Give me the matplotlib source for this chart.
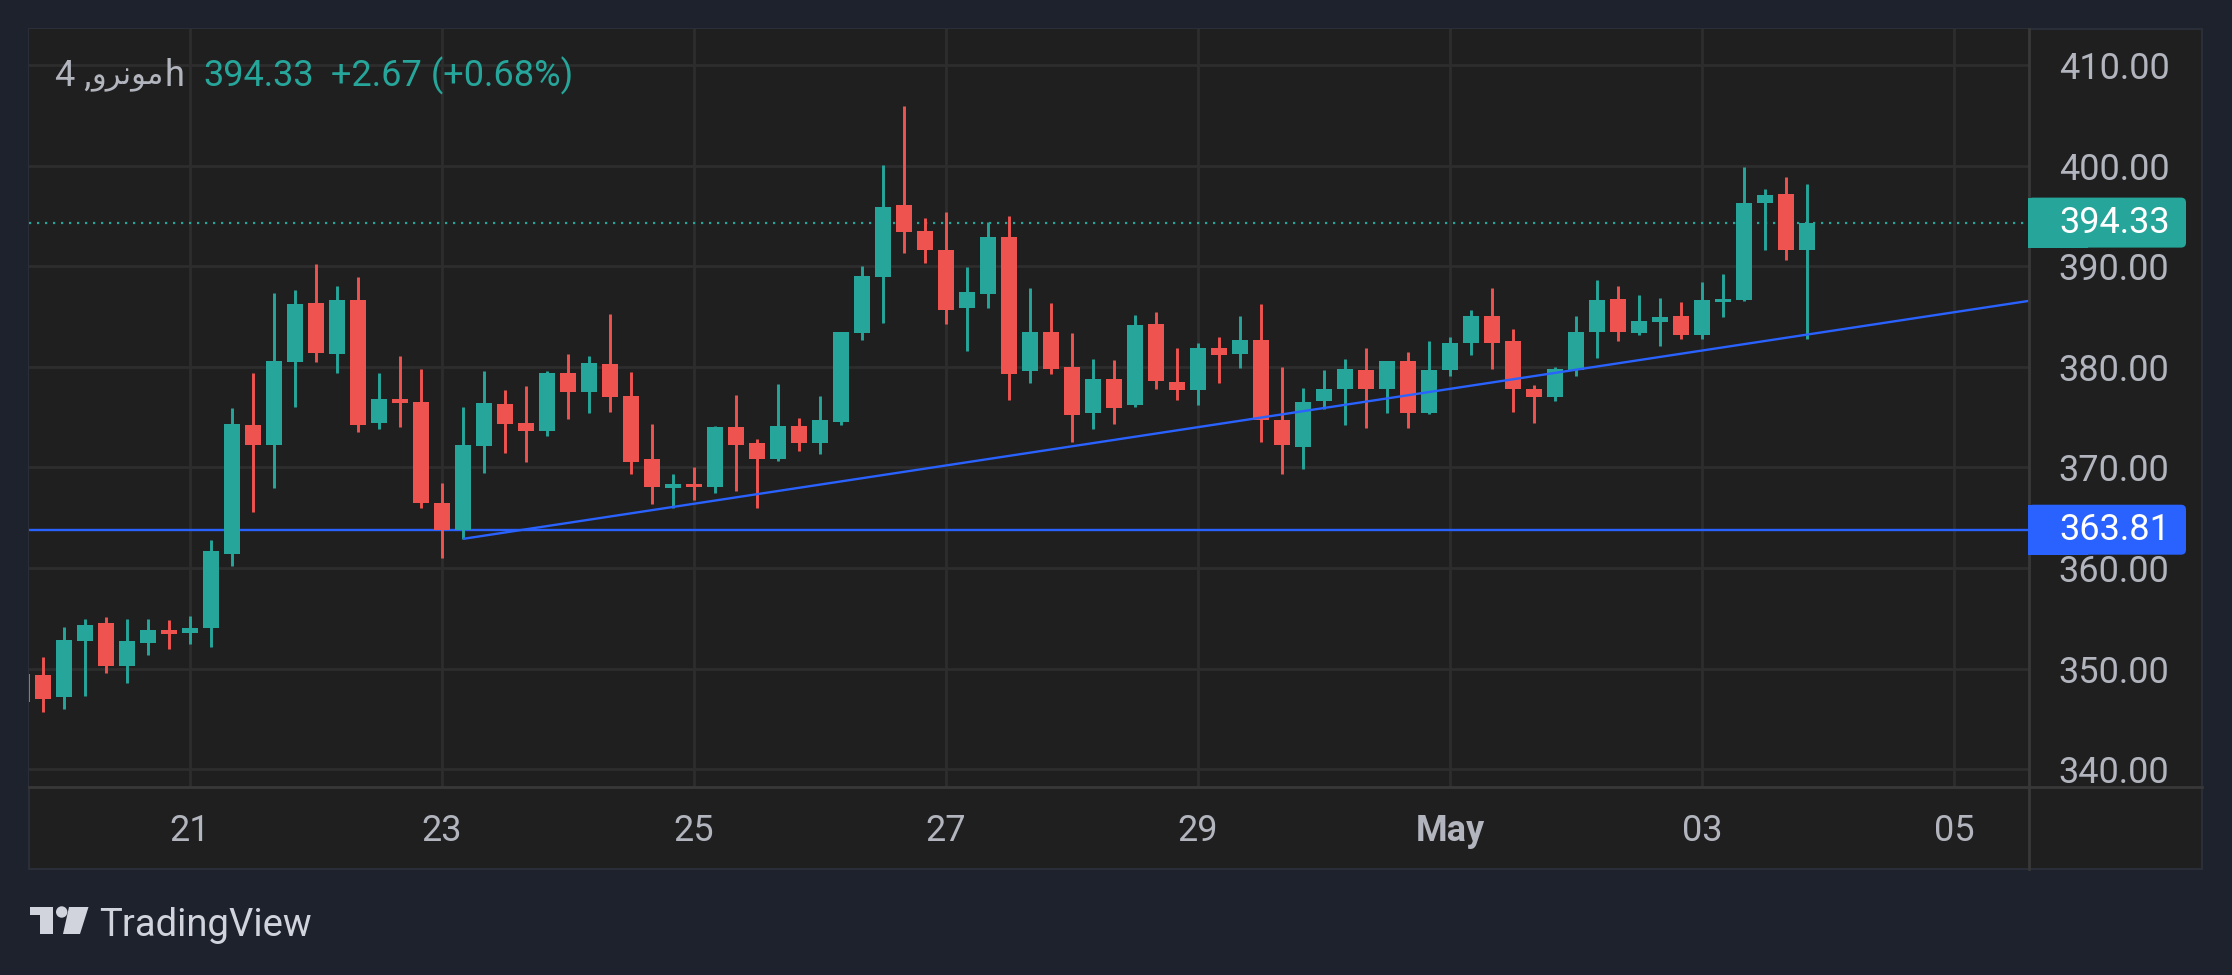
import numpy as np
import pandas as pd
import matplotlib
matplotlib.use('Agg')
import matplotlib.pyplot as plt
import matplotlib.dates as mdates
import matplotlib.transforms as mtransforms
from matplotlib.patches import Rectangle, Polygon, Circle, FancyBboxPatch
from matplotlib.lines import Line2D

# 4h candles, first one starts at this time
first_bar = '2024-04-19 16:00'

opens = [346.7, 349.4, 347.2, 352.7, 354.5, 350.3, 352.6, 353.8, 353.5, 354.0,
         361.4, 374.2, 372.2, 380.5, 386.3, 381.3, 386.6, 374.4, 376.8, 376.5,
         366.5, 363.8, 372.1, 376.3, 374.4, 373.6, 379.4, 377.5, 380.3, 377.1,
         370.8, 368.0, 368.4, 368.1, 374.0, 372.4, 370.8, 374.1, 372.4, 374.5,
         383.4, 388.9, 396.1, 393.5, 391.6, 385.8, 387.2, 392.9, 379.6, 383.5,
         380.0, 375.4, 378.8, 376.2, 384.3, 378.5, 377.7, 381.9, 381.3, 382.7,
         374.7, 372.0, 376.6, 377.8, 379.7, 377.8, 380.6, 375.4, 379.7, 382.4,
         385.0, 382.6, 377.8, 377.0, 379.7, 383.5, 386.7, 383.4, 384.5, 385.0,
         383.2, 386.4, 386.6, 396.3, 397.2, 391.6]
highs = [350.0, 351.2, 354.1, 354.9, 355.1, 354.9, 354.9, 354.8, 355.2, 362.8,
         375.9, 379.4, 387.3, 387.6, 390.2, 388.0, 388.9, 379.4, 381.1, 379.8,
         368.5, 376.0, 379.6, 377.7, 378.1, 379.6, 381.3, 381.1, 385.2, 379.5,
         374.3, 369.3, 370.0, 374.1, 377.2, 372.8, 378.3, 374.9, 377.1, 383.5,
         390.0, 400.1, 405.9, 394.8, 395.4, 389.9, 394.4, 395.0, 387.8, 386.3,
         383.4, 380.8, 380.7, 385.1, 385.4, 381.9, 382.4, 383.0, 385.0, 386.2,
         380.0, 377.9, 379.7, 380.8, 381.9, 380.6, 381.5, 382.6, 383.0, 385.6,
         387.8, 383.8, 378.2, 380.0, 385.0, 388.6, 388.0, 387.1, 386.8, 386.4,
         388.4, 389.2, 399.9, 397.7, 398.9, 398.2]
lows = [346.0, 345.7, 346.0, 347.3, 349.6, 348.6, 351.4, 352.0, 352.5, 352.2,
        360.2, 365.6, 368.0, 376.0, 380.5, 379.4, 373.5, 373.8, 374.0, 366.0,
        361.0, 362.9, 369.4, 371.4, 370.5, 373.1, 374.8, 375.4, 375.5, 369.3,
        366.4, 366.0, 366.8, 367.5, 367.7, 366.0, 370.6, 371.6, 371.3, 374.2,
        382.7, 384.4, 391.3, 390.3, 384.3, 381.6, 385.8, 376.7, 378.4, 379.3,
        372.5, 373.8, 374.3, 376.0, 377.8, 376.7, 376.2, 378.4, 379.9, 372.5,
        369.3, 369.8, 375.8, 374.2, 373.9, 375.4, 373.9, 375.3, 379.1, 381.2,
        379.8, 375.5, 374.4, 376.6, 379.1, 380.9, 382.6, 383.2, 382.1, 382.8,
        382.8, 384.9, 386.5, 391.6, 390.6, 382.8]
closes = [349.5, 347.0, 352.8, 354.3, 350.3, 352.7, 353.8, 353.4, 354.0, 361.7,
          374.3, 372.2, 380.6, 386.2, 381.4, 386.6, 374.2, 376.8, 376.4, 366.5,
          363.8, 372.2, 376.4, 374.3, 373.6, 379.4, 377.5, 380.4, 377.0, 370.5,
          368.1, 368.4, 368.1, 374.0, 372.2, 370.8, 374.1, 372.4, 374.7, 383.5,
          389.0, 395.9, 393.4, 391.6, 385.6, 387.4, 392.9, 379.3, 383.5, 379.8,
          375.2, 378.8, 375.9, 384.2, 378.6, 377.7, 381.9, 381.2, 382.7, 374.7,
          372.2, 376.5, 377.8, 379.8, 377.8, 380.6, 375.4, 379.7, 382.4, 385.0,
          382.4, 377.8, 377.0, 379.8, 383.5, 386.6, 383.5, 384.6, 384.9, 383.2,
          386.6, 386.7, 396.3, 397.1, 391.6, 394.33]

last_price = 394.33
change_text = '+2.67 (+0.68%)'
support_level = 363.81
trend_points = [('2024-04-23 04:00', 362.9), ('2024-05-03 20:00', 383.2)]

tick_dates = ['2024-04-21', '2024-04-23', '2024-04-25', '2024-04-27',
              '2024-04-29', '2024-05-01', '2024-05-03', '2024-05-05']
tick_labels = ['21', '23', '25', '27', '29', 'May', '03', '05']
price_ticks = [340, 350, 360, 370, 380, 390, 400, 410]

# symbol name (Arabic, shaped glyphs in visual order) and interval, as shown
symbol_parts = ['4 ,', '\uFEED\uFEAE\uFEE7\uFEEE\uFEE3', 'h']

GREEN = '#26a69a'
RED = '#ef5350'
BLUE = '#2962ff'
OUTER = '#1e222d'
PANEL = '#1f1f1f'
GRID = '#2d2d2d'
SEP = '#383838'
LABEL = '#b2b5be'

plt.rcParams['font.family'] = ['Roboto', 'DejaVu Sans']

W, H = 2232, 975
fig = plt.figure(figsize=(W / 100, H / 100), dpi=100, facecolor=OUTER)
# pixel coords, origin top-left
pix = mtransforms.Affine2D().scale(1.0 / W, -1.0 / H).translate(0, 1) + fig.transFigure

fig.add_artist(Rectangle((29, 29), 2173, 840, transform=pix, facecolor=PANEL,
                         edgecolor='#2a2e39', linewidth=1.5, zorder=-2))

ax = fig.add_axes([29 / W, 1 - 787 / H, 2000 / W, 758 / H])
ax.set_facecolor(PANEL)
for s in ax.spines.values():
    s.set_visible(False)

times = mdates.date2num(pd.date_range(first_bar, periods=len(opens), freq='4h').to_pydatetime())
o = np.array(opens)
c = np.array(closes)
up = c >= o
colors = np.where(up, GREEN, RED)

ax.vlines(times, lows, highs, colors=colors, linewidth=2.1, zorder=3)
body_bottom = np.minimum(o, c)
body_h = np.maximum(np.abs(c - o), 0.2)
ax.bar(times, body_h, bottom=body_bottom, width=3.2 / 24, color=colors,
       linewidth=0, zorder=4)

ax.axhline(support_level, color=BLUE, linewidth=1.7, zorder=2)
ax.axhline(last_price, color=GREEN, linewidth=1.6, linestyle=(0, (1, 2.6)), zorder=2)

# x range
x0 = mdates.date2num(pd.Timestamp(tick_dates[0]))
xmin, xmax = x0 - 161 / 126, x0 + 1839 / 126
ax.set_xlim(xmin, xmax)
ax.set_ylim(338.24, 413.57)

# trend ray
tx = [mdates.date2num(pd.Timestamp(p[0])) for p in trend_points]
ty = [p[1] for p in trend_points]
slope = (ty[1] - ty[0]) / (tx[1] - tx[0])
ax.plot([tx[0], xmax], [ty[0], ty[0] + slope * (xmax - tx[0])], color=BLUE,
        linewidth=1.7, zorder=5, solid_capstyle='butt')

ax.set_xticks([mdates.date2num(pd.Timestamp(d)) for d in tick_dates])
ax.set_xticklabels(tick_labels)
ax.set_yticks(price_ticks)
ax.set_yticklabels([f'{v:.2f}' for v in price_ticks])
ax.yaxis.tick_right()
ax.tick_params(axis='y', length=0, pad=21.5, labelsize=26, labelcolor=LABEL)
ax.tick_params(axis='x', length=0, pad=19, labelsize=26, labelcolor=LABEL)
ax.get_xticklabels()[5].set_fontweight('bold')
ax.grid(True, color=GRID, linewidth=2)
ax.set_axisbelow(True)

# separators of price / time scales
fig.add_artist(Line2D([2029, 2029], [29, 869], transform=pix, color=SEP, linewidth=2))
fig.add_artist(Line2D([29, 2202], [787, 787], transform=pix, color=SEP, linewidth=2))

# price labels on the scale
fig.canvas.draw()
for price, col in [(last_price, GREEN), (support_level, BLUE)]:
    yp = H - ax.transData.transform((xmin, price))[1]
    fig.add_artist(FancyBboxPatch((2028, yp - 25), 158, 50, transform=pix,
                                  boxstyle='round,pad=0,rounding_size=5',
                                  facecolor=col, edgecolor='none', zorder=6))
    fig.add_artist(Rectangle((2028, yp - 25), 60, 50, transform=pix,
                             facecolor=col, edgecolor='none', zorder=6))
    fig.text(2059, yp, f'{price:.2f}', transform=pix, color='white', fontsize=26,
             va='center', ha='left', zorder=7)

# legend line
fig.text(55, 76, symbol_parts[0], transform=pix, color=LABEL, fontsize=26, va='center')
fig.text(164, 78, symbol_parts[1], transform=pix, color=LABEL, fontsize=22,
         va='center', ha='right')
fig.text(184, 76, symbol_parts[2], transform=pix, color=LABEL, fontsize=26,
         va='center', ha='right')
fig.text(203, 76, f'{last_price:.2f}', transform=pix, color=GREEN, fontsize=26, va='center')
fig.text(331, 76, change_text, transform=pix, color=GREEN, fontsize=26, va='center')

# TradingView logo
LOGO = '#d1d4dc'
fig.add_artist(Polygon([(30, 907), (53, 907), (53, 934), (40, 934), (40, 915), (30, 915)],
                       closed=True, transform=pix, facecolor=LOGO, edgecolor='none'))
fig.add_artist(Circle((61.7, 912), 5.7, transform=pix, facecolor=LOGO, edgecolor='none'))
fig.add_artist(Polygon([(69, 907), (88.5, 907), (80, 934), (63, 934)],
                       closed=True, transform=pix, facecolor=LOGO, edgecolor='none'))
fig.text(99, 936, 'TradingView', transform=pix, color=LOGO, fontsize=27.5, va='baseline')

fig.savefig('out.png', dpi=100, facecolor=OUTER)
